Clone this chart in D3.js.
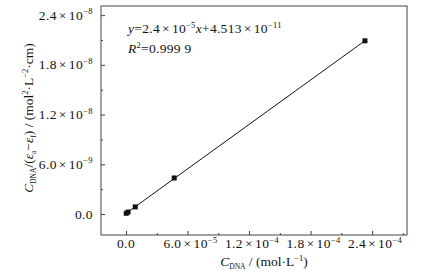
<!DOCTYPE html>
<html>
<head>
<meta charset="utf-8">
<script src="https://cdn.jsdelivr.net/npm/d3@7"></script>
<style>
  body { margin: 0; background: #fff; }
  svg { display: block; font-family: "Liberation Serif", "Times New Roman", serif; }
</style>
</head>
<body>
<div id="chart"></div>
<script>
// data
const concDNA = [0.2e-6, 2.0e-6, 9.0e-6, 4.7e-5, 2.33e-4];
const ratio = [0.9e-10, 2.4e-10, 8.6e-10, 4.35e-9, 2.09e-8];

const xTicks = [0, 6e-5, 1.2e-4, 1.8e-4, 2.4e-4];
const xTickLabels = [["0.0", null], ["6.0", "−5"], ["1.2", "−4"], ["1.8", "−4"], ["2.4", "−4"]];
const xMinor = [3e-5, 9e-5, 1.5e-4, 2.1e-4, 2.7e-4];

const yTicks = [0, 6e-9, 1.2e-8, 1.8e-8, 2.4e-8];
const yTickLabels = [["0.0", null], ["6.0", "−9"], ["1.2", "−8"], ["1.8", "−8"], ["2.4", "−8"]];
const yMinor = [3e-9, 9e-9, 1.5e-8, 2.1e-8];

const width = 442, height = 278;
const margin = { top: 6, right: 35, bottom: 43, left: 101 };
const innerW = width - margin.left - margin.right;
const innerH = height - margin.top - margin.bottom;

const FS = 13.5;      // main text size
const SUP = 8.5;      // exponent size
const ink = "#111";

const svg = d3.select("#chart").append("svg")
  .attr("width", width)
  .attr("height", height);

const g = svg.append("g")
  .attr("transform", `translate(${margin.left},${margin.top})`);

const x = d3.scaleLinear().domain([-2.44e-5, 2.74e-4]).range([0, innerW]);
const y = d3.scaleLinear().domain([-2.53e-9, 2.51e-8]).range([innerH, 0]);

const axisColor = "#444";

// frame
g.append("rect")
  .attr("width", innerW)
  .attr("height", innerH)
  .attr("fill", "none")
  .attr("stroke", axisColor)
  .attr("stroke-width", 1);

// axes with inward ticks
g.append("g")
  .attr("transform", `translate(0,${innerH})`)
  .call(d3.axisBottom(x).tickValues(xTicks).tickSize(-4).tickFormat(""))
  .call(a => a.select(".domain").remove());
g.append("g")
  .attr("transform", `translate(0,${innerH})`)
  .call(d3.axisBottom(x).tickValues(xMinor).tickSize(-2).tickFormat(""))
  .call(a => a.select(".domain").remove());

g.append("g")
  .call(d3.axisLeft(y).tickValues(yTicks).tickSize(-4).tickFormat(""))
  .call(a => a.select(".domain").remove());
g.append("g")
  .call(d3.axisLeft(y).tickValues(yMinor).tickSize(-2).tickFormat(""))
  .call(a => a.select(".domain").remove());

g.selectAll(".tick line").attr("stroke", axisColor);

// mantissa ×10^exp, with a roomy times sign like the reference
function sciLabel(sel, parts) {
  const [mant, exp] = parts;
  sel.append("tspan").text(mant);
  if (exp) {
    sel.append("tspan").attr("dx", 2).text("×");
    sel.append("tspan").attr("dx", 2).text("10");
    sel.append("tspan").attr("dy", -5.5).attr("font-size", SUP).text(exp);
  }
}

// x tick labels
xTicks.forEach((v, i) => {
  const t = g.append("text")
    .attr("x", x(v) + (xTickLabels[i][1] ? 3 : 0))
    .attr("y", innerH + 13)
    .attr("text-anchor", "middle")
    .attr("font-size", FS)
    .attr("letter-spacing", 0.4)
    .attr("fill", ink);
  sciLabel(t, xTickLabels[i]);
});

// y tick labels
yTicks.forEach((v, i) => {
  const t = g.append("text")
    .attr("x", -8)
    .attr("y", y(v) + 4.5)
    .attr("text-anchor", "end")
    .attr("font-size", FS)
    .attr("letter-spacing", 0.4)
    .attr("fill", ink);
  sciLabel(t, yTickLabels[i]);
});

// regression line
const mx = d3.mean(concDNA), my = d3.mean(ratio);
const slope = d3.sum(concDNA, (d, i) => (d - mx) * (ratio[i] - my)) /
  d3.sum(concDNA, d => (d - mx) * (d - mx));
const intercept = my - slope * mx;
const fitX = [0, d3.max(concDNA)];

g.append("path")
  .attr("d", d3.line().x(d => x(d)).y(d => y(slope * d + intercept))(fitX))
  .attr("stroke", ink)
  .attr("stroke-width", 1)
  .attr("fill", "none");

// points
g.selectAll("rect.pt")
  .data(concDNA.map((c, i) => [c, ratio[i]]))
  .join("rect")
  .attr("class", "pt")
  .attr("x", d => x(d[0]) - 2.5)
  .attr("y", d => y(d[1]) - 2.5)
  .attr("width", 5)
  .attr("height", 5)
  .attr("fill", ink);

// equation
const eq = g.append("text")
  .attr("x", 27)
  .attr("y", 27)
  .attr("font-size", FS)
  .attr("letter-spacing", 0.3)
  .attr("fill", ink);
eq.append("tspan").attr("font-style", "italic").text("y");
eq.append("tspan").text("=2.4");
eq.append("tspan").attr("dx", 2).text("×");
eq.append("tspan").attr("dx", 2).text("10");
eq.append("tspan").attr("dy", -5.5).attr("font-size", SUP).text("−5");
eq.append("tspan").attr("dy", 5.5).attr("font-style", "italic").text("x");
eq.append("tspan").text("+4.513");
eq.append("tspan").attr("dx", 2).text("×");
eq.append("tspan").attr("dx", 2).text("10");
eq.append("tspan").attr("dy", -5.5).attr("font-size", SUP).text("−11");

const r2 = g.append("text")
  .attr("x", 27)
  .attr("y", 47)
  .attr("font-size", FS)
  .attr("letter-spacing", 0.3)
  .attr("fill", ink);
r2.append("tspan").attr("font-style", "italic").text("R");
r2.append("tspan").attr("dy", -5.5).attr("font-size", SUP).text("2");
r2.append("tspan").attr("dy", 5.5).text("=0.999 9");

// x axis title
const xt = svg.append("text")
  .attr("x", 264)
  .attr("y", 266)
  .attr("text-anchor", "middle")
  .attr("font-size", FS)
  .attr("fill", ink);
xt.append("tspan").attr("font-style", "italic").text("C");
xt.append("tspan").attr("dy", 3).attr("font-size", 7.5).text("DNA");
xt.append("tspan").attr("dy", -3).text(" / (mol·L");
xt.append("tspan").attr("dy", -5.5).attr("font-size", SUP).text("−1");
xt.append("tspan").attr("dy", 5.5).text(")");

// y axis title
const yt = svg.append("text")
  .attr("transform", "translate(33,118) rotate(-90)")
  .attr("text-anchor", "middle")
  .attr("font-size", FS)
  .attr("fill", ink);
yt.append("tspan").attr("font-style", "italic").text("C");
yt.append("tspan").attr("dy", 3).attr("font-size", 7.5).text("DNA");
yt.append("tspan").attr("dy", -3).text("/(");
yt.append("tspan").attr("font-style", "italic").text("ε");
yt.append("tspan").attr("dy", 3).attr("font-size", 7.5).text("a");
yt.append("tspan").attr("dy", -3).text("−");
yt.append("tspan").attr("font-style", "italic").text("ε");
yt.append("tspan").attr("dy", 3).attr("font-size", 7.5).text("f");
yt.append("tspan").attr("dy", -3).text(") / (mol");
yt.append("tspan").attr("dy", -5.5).attr("font-size", SUP).text("2");
yt.append("tspan").attr("dy", 5.5).text("·L");
yt.append("tspan").attr("dy", -5.5).attr("font-size", SUP).text("−2");
yt.append("tspan").attr("dy", 5.5).text("·cm)");
</script>
</body>
</html>
